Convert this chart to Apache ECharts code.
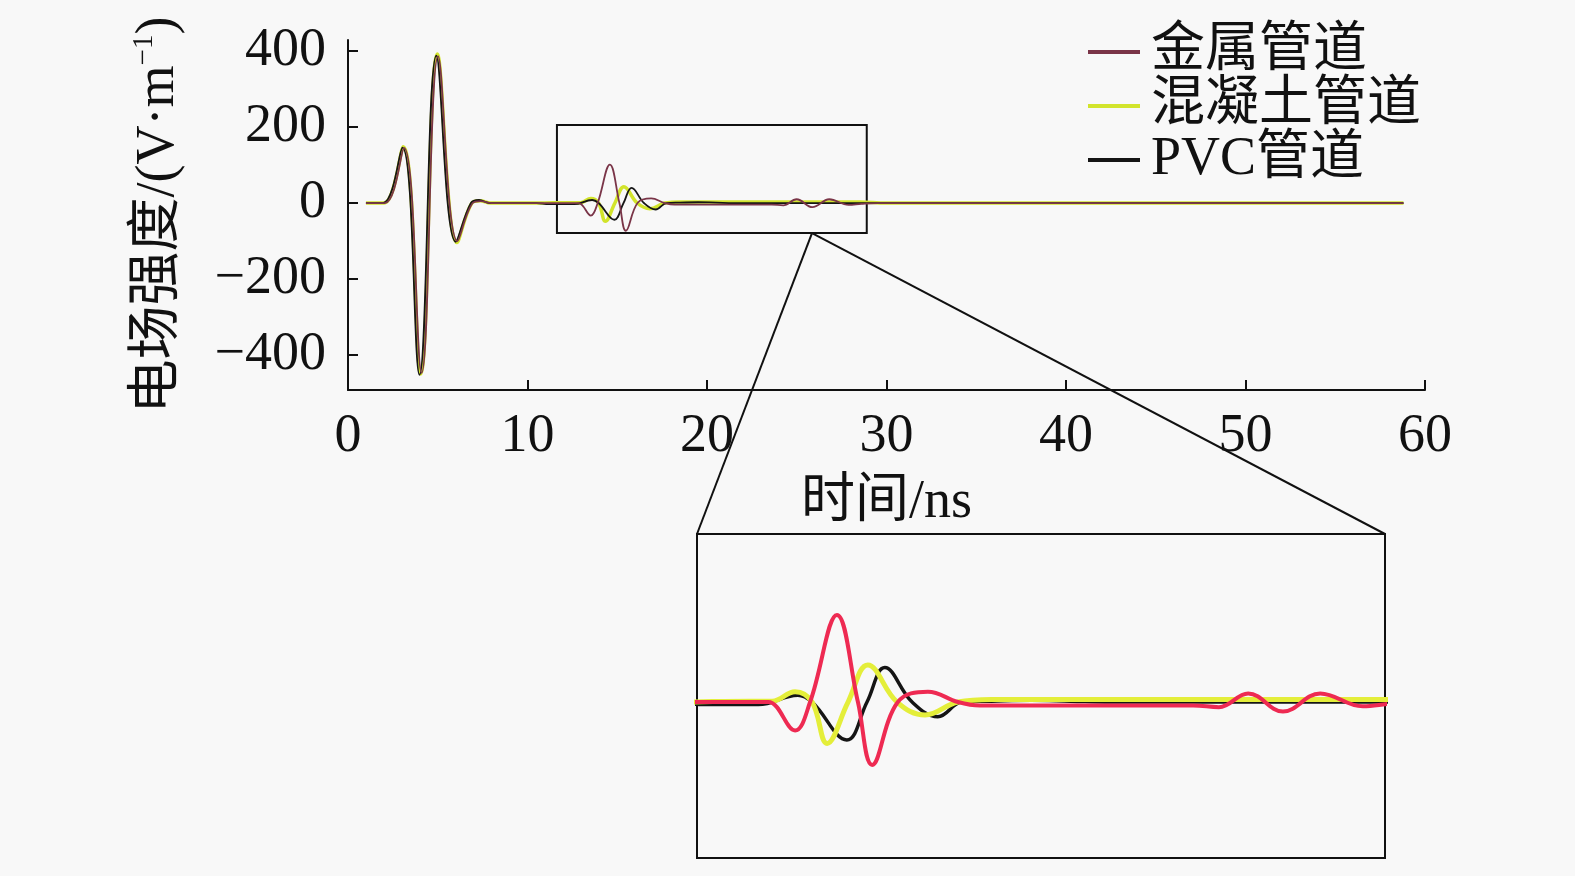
<!DOCTYPE html>
<html>
<head>
<meta charset="utf-8">
<script src="https://cdn.jsdelivr.net/npm/echarts@6/dist/echarts.min.js"></script>
<style>
html,body{margin:0;padding:0;background:#f8f8f8;}
#c{width:1575px;height:876px;}
</style>
</head>
<body>
<div id="c"></div>
<script>
// ---- data ----
const seriesNames = ['金属管道', '混凝土管道', 'PVC管道'];
const xTicks = [0, 10, 20, 30, 40, 50, 60];
const yTicks = [-400, -200, 0, 200, 400];

const metalT = [1.0, 2.05, 3.12, 4.1, 5.02, 6.1, 6.95, 7.4, 8.0, 12.3, 12.85, 13.53, 13.91, 14.59, 15.12, 15.48, 16.13, 16.89, 17.65, 18.2, 23.6, 24.25, 24.99, 25.87, 26.81, 27.89, 28.6, 29.5, 58.8];
const metalV = [0, 0, 145, -447, 386, -100, 0, 5, 0, 0, 0, -33, 0, 101, 0, -73, 0, 12, 0, -4, -4, -6, 10, -11, 10, -5, -2, 0, 0];

const concreteT = [1.0, 2.0, 3.08, 4.05, 4.98, 6.07, 6.9, 7.35, 7.95, 10.5, 12.4, 12.95, 13.53, 13.96, 14.34, 14.87, 15.37, 16.11, 16.82, 17.65, 18.5, 28.5, 30.0, 58.8];
const concreteV = [0, 0, 148, -450, 392, -104, 0, 6, 0, 0, 1, 1, 12, 0, -48, 0, 43, 0, -15, 0, 3, 3, 0, 0];

const pvcT = [1.0, 1.95, 3.03, 3.98, 4.92, 6.0, 6.85, 7.3, 7.9, 10.5, 11.2, 12.6, 13.6, 13.96, 14.84, 15.35, 15.8, 16.49, 17.14, 17.75, 18.5, 19.5, 20.5, 21.5, 58.8];
const pvcV = [0, 0, 146, -452, 388, -102, 0, 8, 0, 0, -3, -3, 8, 0, -44, 0, 40, 0, -17, 0, 1, 2, 1, 0, 0];

// zoom box in main chart (data units): [tStart, tEnd, vLow, vHigh]
const zoomBox = [11.64, 28.9, -79, 205];
// anchor of connector lines on the zoom box bottom edge (time)
const zoomAnchorT = 25.85;
// inset axis ranges
const insetX = [11.05, 28.45];
const insetY = [-181, 195];

function pairs(t, v) { return t.map((x, i) => [x, v[i]]); }

const serif = "'Liberation Serif', 'DejaVu Serif', serif";
const cjk = "'Liberation Serif', 'Noto Sans CJK SC', serif";

const mainColors = { metal: '#7a3548', concrete: '#d2e42c', pvc: '#151515' };
const insetColors = { metal: '#ee2a52', concrete: '#e4ee3a', pvc: '#151515' };

const chart = echarts.init(document.getElementById('c'));

const option = {
  animation: false,
  backgroundColor: '#f8f8f8',
  legend: {
    data: seriesNames,
    orient: 'vertical',
    left: 1083,
    top: 20,
    icon: 'rect',
    itemWidth: 52,
    itemHeight: 4,
    itemGap: 0,
    textStyle: { fontFamily: cjk, fontSize: 54, color: '#111', lineHeight: 54, padding: [0, 0, 0, 6] }
  },
  grid: [
    { left: 348, top: 40, width: 1077, height: 350, containLabel: false },
    { left: 697, top: 534, width: 688, height: 324, show: true, borderColor: '#111', borderWidth: 2, backgroundColor: 'transparent' }
  ],
  xAxis: [
    {
      type: 'value', gridIndex: 0, min: 0, max: 60, interval: 10,
      name: '时间/ns', nameLocation: 'middle', nameGap: 86,
      nameTextStyle: { fontFamily: cjk, fontSize: 54, color: '#111' },
      axisLine: { onZero: false, lineStyle: { color: '#111', width: 2 } },
      axisTick: { inside: true, length: 10, lineStyle: { color: '#111', width: 2 } },
      axisLabel: { fontFamily: serif, fontSize: 54, color: '#111', margin: 20 },
      splitLine: { show: false }
    },
    {
      type: 'value', gridIndex: 1, min: insetX[0], max: insetX[1], show: false
    }
  ],
  yAxis: [
    {
      type: 'value', gridIndex: 0, min: -492, max: 429,
      name: '{a|电场强度/(V·m}{s|−1}{a|)}', nameLocation: 'middle', nameRotate: 90, nameGap: 160,
      nameTextStyle: {
        rich: {
          a: { fontFamily: cjk, fontSize: 54, color: '#111', lineHeight: 58 },
          s: { fontFamily: serif, fontSize: 29, color: '#111', verticalAlign: 'top', lineHeight: 30 }
        }
      },
      axisLine: { onZero: false, lineStyle: { color: '#111', width: 2 } },
      axisTick: { inside: true, length: 10, customValues: yTicks, lineStyle: { color: '#111', width: 2 } },
      axisLabel: {
        customValues: yTicks,
        fontFamily: serif, fontSize: 54, color: '#111', margin: 22,
        formatter: v => (v < 0 ? '\u2212' + Math.abs(v) : String(v))
      },
      splitLine: { show: false }
    },
    {
      type: 'value', gridIndex: 1, min: insetY[0], max: insetY[1], show: false
    }
  ],
  series: [
    {
      name: '混凝土管道', type: 'line', xAxisIndex: 0, yAxisIndex: 0,
      data: pairs(concreteT, concreteV), smooth: 0.4, showSymbol: false,
      lineStyle: { color: mainColors.concrete, width: 3.5 }, itemStyle: { color: mainColors.concrete }
    },
    {
      name: 'PVC管道', type: 'line', xAxisIndex: 0, yAxisIndex: 0,
      data: pairs(pvcT, pvcV), smooth: 0.4, showSymbol: false,
      lineStyle: { color: mainColors.pvc, width: 1.8 }, itemStyle: { color: mainColors.pvc },
      markArea: {
        silent: true,
        itemStyle: { color: 'rgba(0,0,0,0)', borderColor: '#111', borderWidth: 2 },
        data: [[{ coord: [zoomBox[0], zoomBox[3]] }, { coord: [zoomBox[1], zoomBox[2]] }]]
      }
    },
    {
      name: '金属管道', type: 'line', xAxisIndex: 0, yAxisIndex: 0,
      data: pairs(metalT, metalV), smooth: 0.4, showSymbol: false,
      lineStyle: { color: mainColors.metal, width: 1.8 }, itemStyle: { color: mainColors.metal }
    },
    {
      name: 'PVC管道', type: 'line', xAxisIndex: 1, yAxisIndex: 1,
      data: pairs(pvcT, pvcV), smooth: 0.4, showSymbol: false, clip: true,
      lineStyle: { color: insetColors.pvc, width: 3.5 }, itemStyle: { color: insetColors.pvc }
    },
    {
      name: '混凝土管道', type: 'line', xAxisIndex: 1, yAxisIndex: 1,
      data: pairs(concreteT, concreteV), smooth: 0.4, showSymbol: false, clip: true,
      lineStyle: { color: insetColors.concrete, width: 5 }, itemStyle: { color: insetColors.concrete }
    },
    {
      name: '金属管道', type: 'line', xAxisIndex: 1, yAxisIndex: 1,
      data: pairs(metalT, metalV), smooth: 0.4, showSymbol: false, clip: true,
      lineStyle: { color: insetColors.metal, width: 4 }, itemStyle: { color: insetColors.metal }
    }
  ]
};

chart.setOption(option);

// connector lines from zoom box to inset corners, positioned through the axes
const a = chart.convertToPixel({ xAxisIndex: 0, yAxisIndex: 0 }, [zoomAnchorT, zoomBox[2]]);
const b = chart.convertToPixel({ xAxisIndex: 1, yAxisIndex: 1 }, [insetX[0], insetY[1]]);
const c = chart.convertToPixel({ xAxisIndex: 1, yAxisIndex: 1 }, [insetX[1], insetY[1]]);
chart.setOption({
  graphic: [
    { type: 'line', z: 100, shape: { x1: a[0], y1: a[1], x2: b[0], y2: b[1] }, style: { stroke: '#111', lineWidth: 2 } },
    { type: 'line', z: 100, shape: { x1: a[0], y1: a[1], x2: c[0], y2: c[1] }, style: { stroke: '#111', lineWidth: 2 } }
  ]
});
</script>
</body>
</html>
